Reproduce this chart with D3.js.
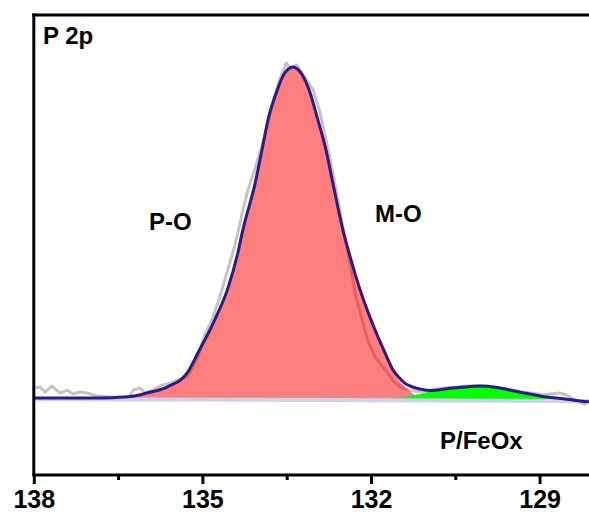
<!DOCTYPE html>
<html>
<head>
<meta charset="utf-8">
<script src="https://cdn.jsdelivr.net/npm/d3@7"></script>
<style>
  html, body { margin: 0; padding: 0; background: #fff; }
  svg text { font-family: "Liberation Sans", Arial, sans-serif; font-weight: bold; fill: #000; }
</style>
</head>
<body>
<svg id="chart" width="589" height="516"></svg>
<script>
// P 2p high-resolution spectrum: binding energy (eV) vs normalised intensity

// Measured spectrum
const rawEnergy = [137.99, 137.89, 137.80, 137.68, 137.53, 137.41, 137.30, 137.18, 137.05, 136.87,
  136.64, 136.46, 136.34, 136.23, 136.11, 136.02, 135.88, 135.72, 135.57, 135.45,
  135.34, 135.26, 135.17, 135.08, 134.96, 134.83, 134.69, 134.55, 134.46, 134.37,
  134.26, 134.19, 134.06, 133.94, 133.80, 133.64, 133.51, 133.44, 133.32, 133.17,
  133.03, 132.91, 132.80, 132.70, 132.58, 132.46, 132.36, 132.27, 132.18, 132.05,
  131.93, 131.82, 131.70, 131.61, 131.48, 131.31, 131.10, 130.90, 130.70, 130.50,
  130.30, 130.10, 129.90, 129.70, 129.50, 129.30, 129.10, 128.95, 128.64, 128.52,
  128.38, 128.17];
const rawIntensity = [0.030, 0.033, 0.018, 0.036, 0.015, 0.024, 0.012, 0.018, 0.015, 0.006,
  0.003, 0.000, -0.006, 0.024, 0.030, 0.015, 0.024, 0.039, 0.045, 0.054,
  0.060, 0.066, 0.094, 0.124, 0.190, 0.236, 0.305, 0.387, 0.438, 0.498,
  0.583, 0.628, 0.695, 0.760, 0.858, 0.955, 1.012, 0.997, 1.006, 0.967,
  0.930, 0.865, 0.780, 0.700, 0.590, 0.480, 0.390, 0.310, 0.250, 0.170,
  0.125, 0.100, 0.075, 0.052, 0.034, 0.022, 0.020, 0.024, 0.030, 0.033,
  0.036, 0.037, 0.035, 0.030, 0.024, 0.018, 0.014, 0.010, 0.015, 0.009,
  -0.006, -0.021];

// Fitted envelope
const envelopeEnergy = [138.00, 137.00, 136.60, 136.25, 135.99, 135.63, 135.27, 135.08, 134.78, 134.54,
  134.37, 134.28, 134.06, 133.94, 133.82, 133.69, 133.55, 133.39, 133.23, 133.08,
  132.96, 132.80, 132.68, 132.50, 132.39, 132.21, 132.00, 131.75, 131.61, 131.50,
  131.40, 131.30, 131.15, 130.95, 130.65, 130.36, 130.06, 129.76, 129.47, 129.17,
  128.87, 128.58, 128.28, 128.00];
const envelopeIntensity = [0.000, 0.000, 0.001, 0.005, 0.015, 0.033, 0.076, 0.136, 0.236, 0.335,
  0.438, 0.508, 0.650, 0.749, 0.849, 0.920, 0.978, 1.000, 0.978, 0.920,
  0.849, 0.749, 0.650, 0.508, 0.438, 0.335, 0.236, 0.136, 0.085, 0.062,
  0.045, 0.036, 0.028, 0.023, 0.028, 0.033, 0.036, 0.032, 0.022, 0.012,
  0.003, -0.002, -0.009, -0.013];

// Main phosphate component (P-O)
const poEnergy = [138.00, 137.00, 136.60, 136.25, 135.99, 135.63, 135.27, 135.08, 134.78, 134.54,
  134.37, 134.28, 134.06, 133.94, 133.82, 133.69, 133.55, 133.39, 133.23, 133.08,
  132.96, 132.80, 132.68, 132.50, 132.39, 132.21, 132.00, 131.75, 131.61, 131.50,
  131.40, 131.30, 131.20, 131.05, 130.90, 128.00];
const poIntensity = [-0.004, -0.004, -0.003, 0.002, 0.013, 0.031, 0.074, 0.134, 0.234, 0.333,
  0.436, 0.506, 0.648, 0.747, 0.847, 0.918, 0.976, 0.998, 0.976, 0.918,
  0.847, 0.747, 0.648, 0.506, 0.436, 0.333, 0.234, 0.134, 0.080, 0.054,
  0.034, 0.018, 0.007, -0.002, -0.006, -0.009];

// Low binding-energy component (P/FeOx)
const feoxEnergy = [138.00, 132.00, 131.66, 131.48, 131.36, 131.18, 130.95, 130.65, 130.36, 130.06,
  129.76, 129.47, 129.17, 128.87, 128.58, 128.28, 128.00];
const feoxIntensity = [-0.003, -0.005, -0.005, -0.001, 0.003, 0.009, 0.018, 0.027, 0.031, 0.034,
  0.029, 0.021, 0.012, 0.004, -0.001, -0.006, -0.009];

// Background
const backgroundEnergy = [138.00, 133.00, 128.00];
const backgroundIntensity = [-0.004, -0.006, -0.009];

// Axis
const majorTicks = [138, 135, 132, 129];
const minorTicks = [136.5, 133.5, 130.5];
const peakLabels = ["P 2p", "P-O", "M-O", "P/FeOx"];

const svg = d3.select("#chart");
const plotLeft = 33.8, plotTop = 15, plotBottom = 475;

const x = d3.scaleLinear().domain([138, 128]).range([plotLeft, plotLeft + 10 * 56.2]);
const y = d3.scaleLinear().domain([-0.2326, 1.157]).range([plotBottom, plotTop]);

const pts = (es, vs) => es.map((e, i) => [e, vs[i]]);
const line = d3.line().x(d => x(d[0])).y(d => y(d[1])).curve(d3.curveMonotoneX);
const rawLine = d3.line().x(d => x(d[0])).y(d => y(d[1])).curve(d3.curveLinear);

// background value at any energy, for the bottom edge of the filled components
const bgAt = d3.scaleLinear().domain(backgroundEnergy).range(backgroundIntensity);
const area = d3.area()
  .x(d => x(d[0]))
  .y0(d => y(bgAt(d[0])))
  .y1(d => y(d[1]))
  .curve(d3.curveMonotoneX);

const plot = svg.append("g");

// measured data
plot.append("path")
  .datum(pts(rawEnergy, rawIntensity))
  .attr("d", rawLine)
  .attr("fill", "none")
  .attr("stroke", "#c4c4c4")
  .attr("stroke-width", 3)
  .attr("stroke-linejoin", "round");

// P-O component
plot.append("path")
  .datum(pts(poEnergy, poIntensity))
  .attr("d", area)
  .attr("fill", "#ff0000")
  .attr("fill-opacity", 0.5)
  .attr("stroke", "none");

// P/FeOx component
plot.append("path")
  .datum(pts(feoxEnergy, feoxIntensity))
  .attr("d", area)
  .attr("fill", "#00ff00")
  .attr("stroke", "none");
plot.append("path")
  .datum(pts(feoxEnergy, feoxIntensity))
  .attr("d", line)
  .attr("fill", "none")
  .attr("stroke", "#33dd33")
  .attr("stroke-width", 1);

// background
plot.append("path")
  .datum(pts(backgroundEnergy, backgroundIntensity))
  .attr("d", line)
  .attr("fill", "none")
  .attr("stroke", "#cfcfee")
  .attr("stroke-width", 4);

// envelope
plot.append("path")
  .datum(pts(envelopeEnergy, envelopeIntensity))
  .attr("d", line)
  .attr("fill", "none")
  .attr("stroke", "#2a1c88")
  .attr("stroke-width", 3);

// frame: left and top edges
svg.append("line")
  .attr("x1", plotLeft).attr("x2", plotLeft)
  .attr("y1", plotTop - 1.5).attr("y2", plotBottom)
  .attr("stroke", "#000").attr("stroke-width", 3);
svg.append("line")
  .attr("x1", plotLeft - 1.5).attr("x2", x(128))
  .attr("y1", plotTop).attr("y2", plotTop)
  .attr("stroke", "#000").attr("stroke-width", 3);

// bottom axis
const xAxis = d3.axisBottom(x)
  .tickValues(majorTicks)
  .tickSize(9)
  .tickPadding(6)
  .tickFormat(d3.format("d"));
const gx = svg.append("g")
  .attr("transform", `translate(0,${plotBottom})`)
  .call(xAxis);
gx.select(".domain").attr("stroke", "#000").attr("stroke-width", 3)
  .attr("d", `M${plotLeft - 1.5},0H${x(128)}`);
gx.selectAll(".tick line").attr("stroke", "#000").attr("stroke-width", 3);
gx.selectAll(".tick text")
  .attr("font-size", 25)
  .attr("font-family", "'Liberation Sans', Arial, sans-serif")
  .attr("font-weight", "bold")
  .attr("fill", "#000");

const minorAxis = d3.axisBottom(x).tickValues(minorTicks).tickSize(5).tickFormat("");
const gm = svg.append("g")
  .attr("transform", `translate(0,${plotBottom})`)
  .call(minorAxis);
gm.select(".domain").remove();
gm.selectAll(".tick line").attr("stroke", "#000").attr("stroke-width", 3);

// labels
const labelPos = [[43, 44], [149, 230], [375, 222], [440, 449]];
svg.selectAll("text.peak")
  .data(peakLabels)
  .enter().append("text")
  .attr("class", "peak")
  .attr("x", (d, i) => labelPos[i][0])
  .attr("y", (d, i) => labelPos[i][1])
  .attr("font-size", 24)
  .text(d => d);
</script>
</body>
</html>
